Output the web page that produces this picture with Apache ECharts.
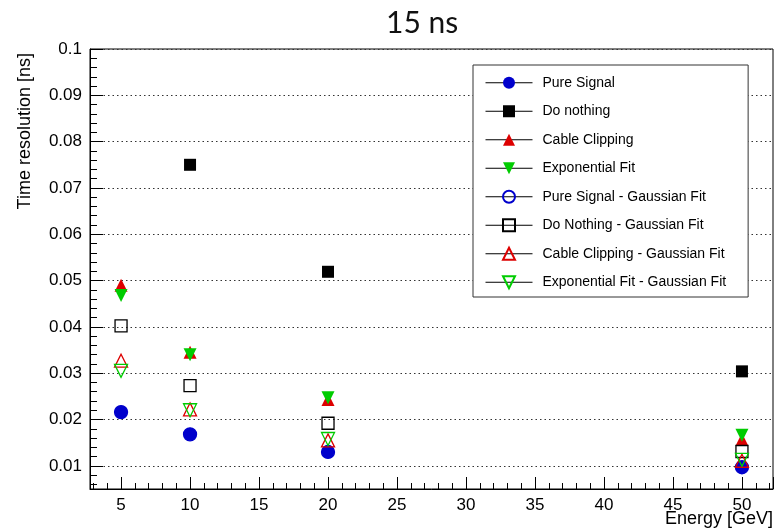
<!DOCTYPE html>
<html>
<head>
<meta charset="utf-8">
<script src="https://cdn.jsdelivr.net/npm/echarts@6/dist/echarts.min.js"></script>
<style>
  html, body { margin: 0; padding: 0; background: #fff; }
  #chart { width: 778px; height: 529px; }
</style>
</head>
<body>
<div id="chart"></div>
<script>
// Beam energies [GeV]
var energies = [5, 10, 20, 50];

// Time resolution [ns] per method
var pureSignal        = [0.0216, 0.0168, 0.0130, 0.0097];
var doNothing         = [null,   0.0750, 0.0519, 0.0304];
var cableClipping     = [0.0490, 0.0345, 0.0243, 0.0157];
var exponentialFit    = [0.0468, 0.0340, 0.0247, 0.0166];
var pureSignalGaus    = [0.0216, 0.0168, 0.0130, 0.0097];
var doNothingGaus     = [0.0402, 0.0273, 0.0192, 0.0131];
var cableClippingGaus = [0.0327, 0.0222, 0.0155, 0.0111];
var exponentialGaus   = [0.0305, 0.0220, 0.0158, 0.0113];

var seriesNames = [
  'Pure Signal', 'Do nothing', 'Cable Clipping', 'Exponential Fit',
  'Pure Signal - Gaussian Fit', 'Do Nothing - Gaussian Fit',
  'Cable Clipping - Gaussian Fit', 'Exponential Fit - Gaussian Fit'
];

var BLUE = '#0000cc', BLACK = '#000000', RED = '#dd0000', GREEN = '#00cc00';
var FONT = 'Liberation Sans, Arial, sans-serif';

function pairs(values) {
  return energies.map(function (e, i) { return [e, values[i]]; });
}

// marker description: [values, symbol, size, rotate, colour, filled]
var markers = [
  [pureSignal,        'circle',   13, 0,   BLUE,  true],
  [doNothing,         'rect',     12, 0,   BLACK, true],
  [cableClipping,     'triangle', 13, 0,   RED,   true],
  [exponentialFit,    'triangle', 13, 180, GREEN, true],
  [pureSignalGaus,    'circle',   13, 0,   BLUE,  false],
  [doNothingGaus,     'rect',     12, 0,   BLACK, false],
  [cableClippingGaus, 'triangle', 13, 0,   RED,   false],
  [exponentialGaus,   'triangle', 13, 180, GREEN, false]
];

var series = markers.map(function (m, i) {
  return {
    name: seriesNames[i],
    type: 'line',
    data: pairs(m[0]),
    symbol: m[1],
    symbolSize: m[2],
    symbolRotate: m[3],
    showSymbol: true,
    connectNulls: false,
    lineStyle: { opacity: 0, width: 1, color: '#000' },
    itemStyle: m[5]
      ? { color: m[4], borderWidth: 0 }
      : { color: 'none', borderColor: m[4], borderWidth: 1.3 },
    emphasis: { disabled: true },
    z: 3 + i
  };
});

var chart = echarts.init(document.getElementById('chart'), null, { renderer: 'canvas' });

chart.setOption({
  animation: false,
  backgroundColor: '#fff',
  title: {
    text: '15 ns',
    left: 381,
    top: 3,
    textStyle: { fontFamily: 'Lato, Open Sans, sans-serif', fontSize: 30, fontWeight: 'normal', color: '#111' }
  },
  grid: {
    left: 90, right: 5, top: 49, bottom: 40,
    outerBoundsMode: 'none',
    containLabel: false,
    show: true, borderColor: '#000', borderWidth: 1, backgroundColor: 'transparent'
  },
  legend: {
    orient: 'vertical',
    left: 473,
    top: 65,
    padding: [3.5, 22, 0.5, 12],
    borderColor: '#333',
    borderWidth: 1,
    backgroundColor: '#fff',
    itemWidth: 47,
    itemHeight: 15,
    itemGap: 0,
    selectedMode: false,
    data: seriesNames,
    lineStyle: { color: '#000', width: 1, opacity: 1 },
    textStyle: { fontFamily: FONT, fontSize: 14, lineHeight: 28.5, color: '#000', padding: [0, 0, 0, 5] }
  },
  xAxis: {
    type: 'value',
    min: 2.75,
    max: 52.25,
    splitNumber: 10,
    name: 'Energy [GeV]',
    nameLocation: 'end',
    nameGap: 0,
    nameMoveOverlap: false,
    nameTextStyle: { fontFamily: FONT, fontSize: 18, color: '#000', align: 'right', verticalAlign: 'top', padding: [21, 0, 0, 0] },
    axisLine: { show: true, onZero: false, lineStyle: { color: '#000', width: 1 } },
    axisTick: { show: true, inside: true, length: 12, lineStyle: { color: '#000' } },
    minorTick: { show: true, splitNumber: 5, length: 6, lineStyle: { color: '#000' } },
    axisLabel: {
      fontFamily: FONT, fontSize: 17, color: '#000', margin: 8,
      formatter: function (v) { return (Math.abs(v % 5) < 1e-9) ? String(v) : ''; }
    },
    splitLine: { show: false }
  },
  yAxis: {
    type: 'value',
    min: 0.005,
    max: 0.1,
    splitNumber: 10,
    name: 'Time resolution [ns]',
    nameLocation: 'end',
    nameGap: -4,
    nameRotate: 90,
    nameMoveOverlap: false,
    nameTextStyle: { fontFamily: FONT, fontSize: 18, color: '#000', align: 'right', verticalAlign: 'bottom', padding: [0, 0, 56, 0] },
    axisLine: { show: true, onZero: false, lineStyle: { color: '#000', width: 1 } },
    axisTick: { show: true, inside: true, length: 13, lineStyle: { color: '#000' } },
    minorTick: { show: true, splitNumber: 5, length: 7, lineStyle: { color: '#000' } },
    axisLabel: {
      fontFamily: FONT, fontSize: 17, color: '#000', margin: 8,
      formatter: function (v) {
        var k = Math.round(v * 100);
        if (Math.abs(v * 100 - k) > 1e-6) return '';
        return String(parseFloat(v.toFixed(2)));
      }
    },
    splitLine: { show: true, lineStyle: { color: '#333', width: 1, type: [1.5, 3] } }
  },
  series: series
});
</script>
</body>
</html>
